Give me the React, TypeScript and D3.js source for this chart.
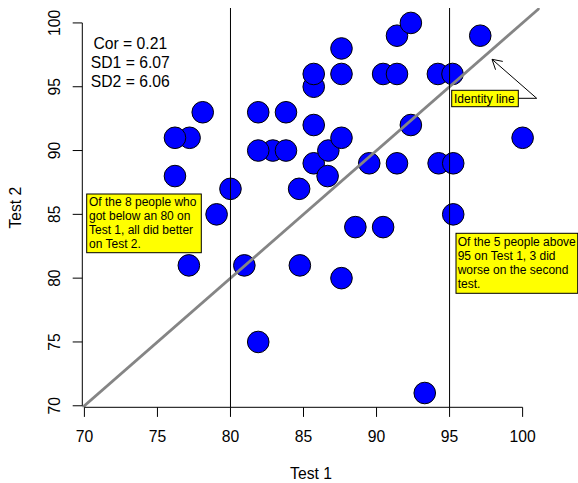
import React, { useEffect, useRef } from "react";
import * as d3 from "d3";

// scores, drawing order matters for overlaps
const test1 = [
  77.2, 76.2, 78.1, 76.2, 80.0, 79.05, 77.15, 80.95, 84.75, 81.9,
  81.9, 83.8, 82.9, 81.9, 83.8, 84.7, 85.7, 85.7, 87.6, 87.6,
  90.45, 91.4, 91.4, 92.35, 94.2, 95.2, 92.35, 85.7, 85.7, 86.7,
  87.6, 86.65, 89.5, 91.4, 94.25, 95.25, 95.25, 88.55, 90.45, 87.6,
  93.3, 97.1, 100,
];
const test2 = [
  91, 91, 93, 88, 87, 85, 81, 81, 81, 75,
  93, 93, 90, 90, 90, 87, 95, 96, 98, 96,
  96, 96, 99, 100, 96, 96, 92, 92, 89, 90,
  91, 88, 89, 89, 89, 89, 85, 84, 84, 80,
  71, 99, 91,
];
const ticks = [70, 75, 80, 85, 90, 95, 100];
const cutoffs = [80, 95];
const statLines = ["Cor = 0.21", "SD1 = 6.07", "SD2 = 6.06"];
const lowNote = ["Of the 8 people who", "got below an 80 on", "Test 1, all did better", "on Test 2."];
const highNote = ["Of the 5 people above", "95 on Test 1, 3 did", "worse on the second", "test."];
const identityLabel = "Identity line";

const FONT = "'Liberation Sans', Arial, sans-serif";

export default function App() {
  const ref = useRef<SVGSVGElement>(null);

  useEffect(() => {
    const svg = d3.select(ref.current);
    svg.selectAll("*").remove();

    const left = 82.3, right = 539.7, top = 8, bottom = 407.3;
    const x = d3.scaleLinear().domain([69.856, 101.17]).range([left, right]);
    const y = d3.scaleLinear().domain([69.88, 101.17]).range([bottom, top]);

    svg.append("defs").append("clipPath").attr("id", "plotclip")
      .append("rect")
      .attr("x", left).attr("y", top)
      .attr("width", right - left).attr("height", bottom - top);

    // points
    svg.append("g")
      .selectAll("circle")
      .data(test1.map((v, i) => [v, test2[i]]))
      .enter()
      .append("circle")
      .attr("cx", (d) => x(d[0]))
      .attr("cy", (d) => y(d[1]))
      .attr("r", 10.8)
      .attr("fill", "#0000ff")
      .attr("stroke", "#000")
      .attr("stroke-width", 1);

    // identity line + cutoffs
    const lines = svg.append("g").attr("clip-path", "url(#plotclip)");
    lines.append("line")
      .attr("x1", x(60)).attr("y1", y(60))
      .attr("x2", x(110)).attr("y2", y(110))
      .attr("stroke", "#858585")
      .attr("stroke-width", 2.8);
    lines.selectAll(".cut")
      .data(cutoffs)
      .enter()
      .append("line")
      .attr("x1", (d) => x(d)).attr("x2", (d) => x(d))
      .attr("y1", top).attr("y2", bottom)
      .attr("stroke", "#000")
      .attr("stroke-width", 1);

    // axes, R style
    const ax = svg.append("g").attr("stroke", "#000").attr("stroke-width", 1);
    ax.append("line")
      .attr("x1", x(70)).attr("x2", x(100))
      .attr("y1", bottom).attr("y2", bottom);
    ax.selectAll(".xt").data(ticks).enter().append("line")
      .attr("x1", (d) => x(d)).attr("x2", (d) => x(d))
      .attr("y1", bottom).attr("y2", bottom + 9.6);
    ax.append("line")
      .attr("x1", left).attr("x2", left)
      .attr("y1", y(70)).attr("y2", y(100));
    ax.selectAll(".yt").data(ticks).enter().append("line")
      .attr("x1", left - 9.6).attr("x2", left)
      .attr("y1", (d) => y(d)).attr("y2", (d) => y(d));

    const txt = svg.append("g")
      .attr("font-family", FONT)
      .attr("font-size", 15.7)
      .attr("fill", "#000");
    txt.selectAll(".xl").data(ticks).enter().append("text")
      .attr("x", (d) => x(d)).attr("y", 442.3)
      .attr("text-anchor", "middle")
      .text((d) => d);
    txt.selectAll(".yl").data(ticks).enter().append("text")
      .attr("transform", (d) => `translate(60, ${y(d)}) rotate(-90)`)
      .attr("text-anchor", "middle")
      .text((d) => d);
    txt.append("text")
      .attr("x", (left + right) / 2).attr("y", 479)
      .attr("text-anchor", "middle")
      .text("Test 1");
    txt.append("text")
      .attr("transform", `translate(20.7, ${(top + bottom) / 2}) rotate(-90)`)
      .attr("text-anchor", "middle")
      .text("Test 2");
    txt.selectAll(".st").data(statLines).enter().append("text")
      .attr("x", 130.3).attr("y", (d, i) => 48.7 + i * 19)
      .attr("text-anchor", "middle")
      .text((d) => d);

    // yellow notes
    const note = (bx, by, bw, bh, tx, ty, lh, rows) => {
      const g = svg.append("g");
      g.append("rect")
        .attr("x", bx).attr("y", by).attr("width", bw).attr("height", bh)
        .attr("fill", "#ffff00").attr("stroke", "#000").attr("stroke-width", 1);
      g.selectAll("text").data(rows).enter().append("text")
        .attr("x", tx).attr("y", (d, i) => ty + i * lh)
        .attr("font-family", FONT).attr("font-size", 12)
        .text((d) => d);
    };
    note(86.7, 194, 114.6, 58.7, 89, 206, 14, lowNote);
    note(456, 233.3, 121.7, 60, 457.7, 245.5, 14.3, highNote);
    note(451.7, 90.3, 66.6, 16.4, 454, 102.5, 0, [identityLabel]);

    // arrow to the identity line
    const tip = [492, 59.3], elbow = [536.7, 98.3];
    const arr = svg.append("g").attr("stroke", "#000").attr("stroke-width", 1).attr("fill", "none");
    arr.append("line").attr("x1", 518.3).attr("y1", 98.3).attr("x2", elbow[0]).attr("y2", elbow[1]);
    arr.append("line").attr("x1", elbow[0]).attr("y1", elbow[1]).attr("x2", tip[0]).attr("y2", tip[1]);
    const ang = Math.atan2(elbow[1] - tip[1], elbow[0] - tip[0]);
    const len = 11;
    const w1 = [tip[0] + len * Math.cos(ang - Math.PI / 6), tip[1] + len * Math.sin(ang - Math.PI / 6)];
    const w2 = [tip[0] + len * Math.cos(ang + Math.PI / 6), tip[1] + len * Math.sin(ang + Math.PI / 6)];
    arr.append("path").attr("d", `M${w1[0]},${w1[1]}L${tip[0]},${tip[1]}L${w2[0]},${w2[1]}`);
  }, []);

  return (
    <svg
      ref={ref}
      width={578}
      height={483}
      style={{ position: "absolute", left: 0, top: 0, background: "#fff" }}
    />
  );
}
